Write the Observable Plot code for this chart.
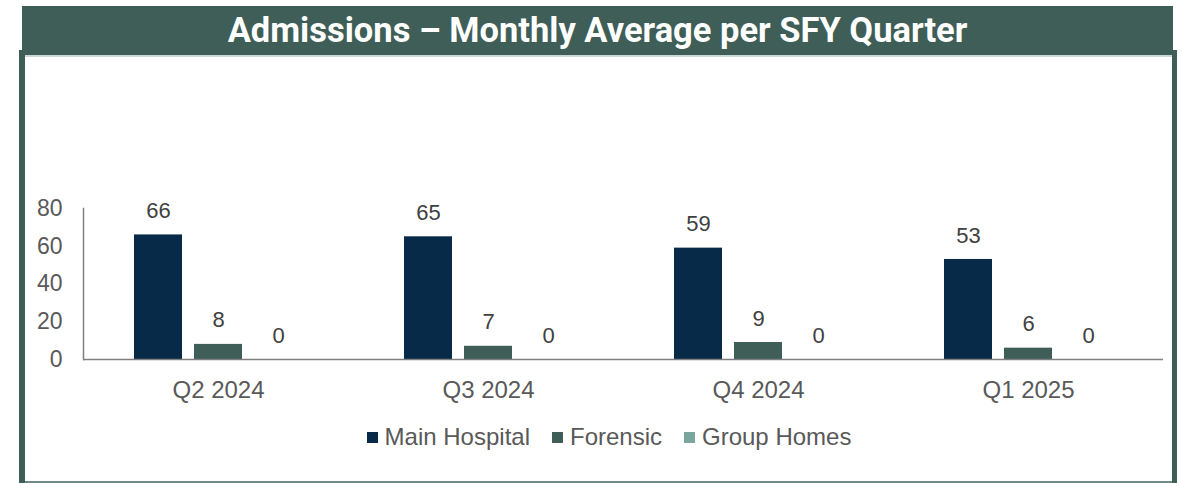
<!DOCTYPE html>
<html>
<head>
<meta charset="utf-8">
<script src="https://cdn.jsdelivr.net/npm/d3@7"></script>
<script src="https://cdn.jsdelivr.net/npm/@observablehq/plot@0.6"></script>
<style>
  html, body { margin: 0; padding: 0; background: #fff; }
  #wrap { position: relative; width: 1182px; height: 483px; overflow: hidden; background: #fff; }
  #header { position: absolute; left: 22px; top: 6px; width: 1151px; height: 49px; background: #3e5e57;
    color: #fff; font-family: Roboto, sans-serif; font-weight: 700; font-size: 34.5px; line-height: 49px; text-align: center; }
  #hline { position: absolute; left: 25px; top: 55px; width: 1147px; height: 2px; background: #cbd9d6; }
  #lborder { position: absolute; left: 19px; top: 50px; width: 6px; height: 433px; background: #3e5e57; }
  #rborder { position: absolute; left: 1172px; top: 50px; width: 5px; height: 433px; background: #3e5e57; }
  #bline { position: absolute; left: 25px; top: 481px; width: 1147px; height: 2px; background: #6f8b85; }
  #chart { position: absolute; left: 0; top: 180px; }
  #legend { position: absolute; left: 0; top: 423px; width: 1182px; display: flex; justify-content: center;
    font-family: "Liberation Sans", Arial, sans-serif; font-size: 24px; color: #595959; padding-left: 36px; box-sizing: border-box; }
  .item { display: flex; align-items: center; margin: 0 11px; }
  .sw { width: 11px; height: 11px; margin-right: 7px; }
</style>
</head>
<body>
<div id="wrap">
  <div id="header">Admissions – Monthly Average per SFY Quarter</div>
  <div id="hline"></div>
  <div id="lborder"></div>
  <div id="rborder"></div>
  <div id="bline"></div>
  <div id="chart"></div>
  <div id="legend"></div>
</div>
<script>
const quarters = ["Q2 2024", "Q3 2024", "Q4 2024", "Q1 2025"];
const series = ["Main Hospital", "Forensic", "Group Homes"];
const mainHospital = [66, 65, 59, 53];
const forensic = [8, 7, 9, 6];
const groupHomes = [0, 0, 0, 0];
const colors = ["#062a47", "#3e5e57", "#7aa69d"];
const yTicks = [0, 20, 40, 60, 80];

const valuesBySeries = [mainHospital, forensic, groupHomes];
const data = [];
quarters.forEach((q, i) => {
  series.forEach((s, j) => data.push({quarter: q, series: s, value: valuesBySeries[j][i]}));
});

const chart = Plot.plot({
  width: 1182,
  height: 230,
  marginTop: 28,
  marginBottom: 51,
  marginLeft: 83,
  marginRight: 19,
  style: {fontFamily: "'Liberation Sans', Arial, sans-serif", background: "transparent"},
  fx: {domain: quarters, padding: 0, label: null},
  x: {domain: series, paddingInner: 0.2, paddingOuter: 0.85, axis: null},
  y: {domain: [0, 80], label: null},
  color: {domain: series, range: colors},
  marks: [
    Plot.axisY({ticks: yTicks, tickSize: 0, tickPadding: 21, fontSize: 23, color: "#595959", label: null}),
    Plot.axisFx({anchor: "bottom", tickSize: 0, tickPadding: 21, fontSize: 24, color: "#595959", label: null}),
    Plot.barY(data, {fx: "quarter", x: "series", y: "value", fill: "series"}),
    Plot.ruleY([0], {stroke: "#7f7f7f", strokeWidth: 1.5}),
    Plot.frame({anchor: "left", facetAnchor: "left", stroke: "#7f7f7f", strokeWidth: 1.5}),
    Plot.text(data, {fx: "quarter", x: "series", y: "value", text: d => String(d.value), dy: -24,
      fontSize: 22, fill: "#404040"})
  ]
});
document.getElementById("chart").appendChild(chart);

const legend = document.getElementById("legend");
series.forEach((s, i) => {
  const item = document.createElement("div");
  item.className = "item";
  const sw = document.createElement("span");
  sw.className = "sw";
  sw.style.background = colors[i];
  const label = document.createElement("span");
  label.textContent = s;
  item.appendChild(sw);
  item.appendChild(label);
  legend.appendChild(item);
});
</script>
</body>
</html>
